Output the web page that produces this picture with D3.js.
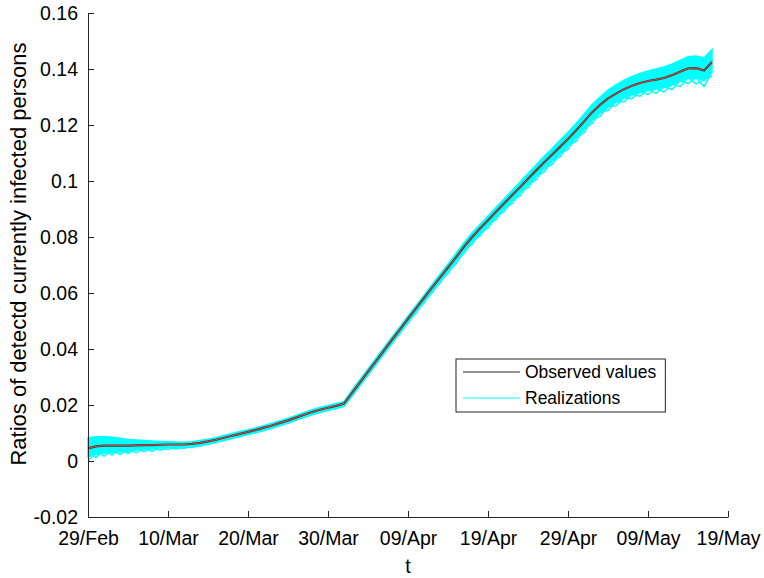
<!DOCTYPE html>
<html>
<head>
<meta charset="utf-8">
<script src="https://cdn.jsdelivr.net/npm/d3@7"></script>
<style>
  html, body { margin: 0; padding: 0; background: #fff; }
  svg { display: block; font-family: "Liberation Sans", Arial, sans-serif; }
</style>
</head>
<body>
<svg id="chart" width="764" height="578"></svg>
<script>
// Daily series starting 29 Feb 2020
const startDate = "2020-02-29";

// Observed ratio of detected currently infected persons, one value per day
const observed = [
  0.0045, 0.0052, 0.0055, 0.0055, 0.0055, 0.0055, 0.0056, 0.0057, 0.0057, 0.0058,
  0.0059, 0.0059, 0.0059, 0.0061, 0.0065, 0.0070, 0.0076, 0.0083, 0.0090, 0.0097,
  0.0104, 0.0111, 0.0119, 0.0127, 0.0136, 0.0145, 0.0155, 0.0165, 0.0175, 0.0183,
  0.0190, 0.0197, 0.0205, 0.0243, 0.0281, 0.0319, 0.0357, 0.0395, 0.0433, 0.0470,
  0.0508, 0.0545, 0.0582, 0.0619, 0.0655, 0.0691, 0.0727, 0.0765, 0.0799, 0.0830,
  0.0860, 0.0890, 0.0920, 0.0949, 0.0978, 0.1008, 0.1037, 0.1066, 0.1094, 0.1122,
  0.1150, 0.1180, 0.1212, 0.1245, 0.1272, 0.1295, 0.1312, 0.1328, 0.1340, 0.1350,
  0.1357, 0.1362, 0.1368, 0.1378, 0.1390, 0.1402, 0.1403, 0.1395, 0.1425
];

// Spread of the realizations around the observed curve (units of 0.001)
const spreadHigh = [
  3.8, 3.5, 3.2, 3.0, 2.6, 2.2, 1.9, 1.6, 1.4, 1.2,
  1.0, 0.9, 0.8, 0.8, 0.8, 0.8, 0.8, 0.8, 0.8, 0.8,
  0.8, 0.8, 0.8, 0.8, 0.8, 0.8, 0.8, 0.8, 0.8, 0.8,
  0.8, 0.8, 0.8, 1.0, 1.0, 1.0, 1.0, 1.0, 1.0, 1.0,
  1.0, 1.0, 1.0, 1.1, 1.2, 1.3, 1.4, 1.5, 1.5, 1.5,
  1.5, 1.6, 1.6, 1.7, 1.8, 1.9, 2.0, 2.1, 2.2, 2.3,
  2.4, 2.5, 2.6, 2.7, 2.8, 3.0, 3.1, 3.2, 3.3, 3.4,
  3.6, 3.8, 3.9, 4.0, 4.1, 4.2, 4.3, 4.4, 4.5
];
const spreadLow = [
  3.0, 2.8, 2.6, 2.4, 2.2, 2.0, 1.7, 1.5, 1.3, 1.1,
  1.0, 0.9, 0.8, 0.8, 0.8, 0.8, 0.8, 0.8, 0.8, 0.8,
  0.8, 0.8, 0.8, 0.8, 0.8, 0.8, 0.8, 0.8, 0.8, 0.8,
  0.8, 0.8, 0.8, 1.0, 1.0, 1.0, 1.0, 1.0, 1.0, 1.0,
  1.0, 1.0, 1.0, 1.1, 1.2, 1.3, 1.4, 1.5, 1.5, 1.5,
  1.5, 1.6, 1.6, 1.7, 1.8, 1.9, 2.0, 2.1, 2.2, 2.3,
  2.4, 2.5, 2.6, 2.7, 2.8, 3.0, 3.0, 3.1, 3.1, 3.2,
  3.2, 3.3, 3.3, 3.4, 3.4, 3.5, 3.5, 3.6, 3.6
];
// Lower realizations that swing from day to day (units of 0.001 below observed)
const swingA = [
  4.5, 1.6, 3.8, 1.5, 3.2, 1.3, 2.7, 1.1, 2.2, 1.0,
  1.8, 0.9, 1.4, 0.8, 1.2, 0.8, 1.0, 0.8, 1.0, 0.8,
  1.0, 0.8, 1.0, 0.8, 1.0, 0.8, 1.0, 0.8, 1.0, 0.8,
  1.0, 0.8, 1.0, 1.0, 1.2, 1.0, 1.3, 1.0, 1.4, 1.0,
  1.6, 1.1, 1.8, 1.2, 2.0, 1.3, 2.3, 1.5, 2.5, 1.6,
  2.7, 1.7, 2.9, 1.8, 3.1, 2.0, 3.3, 2.1, 3.5, 2.3,
  3.7, 2.5, 3.9, 2.6, 4.1, 2.8, 4.4, 3.0, 4.6, 3.0,
  4.8, 3.1, 5.0, 3.2, 5.3, 3.3, 5.6, 3.4, 5.0
];
const swingB = [
  1.5, 3.9, 1.4, 3.4, 1.2, 2.9, 1.1, 2.4, 1.0, 2.0,
  0.9, 1.6, 0.8, 1.3, 0.8, 1.1, 0.8, 1.0, 0.8, 1.0,
  0.8, 1.0, 0.8, 1.0, 0.8, 1.0, 0.8, 1.0, 0.8, 1.0,
  0.8, 1.0, 0.8, 1.1, 1.0, 1.2, 1.0, 1.3, 1.0, 1.5,
  1.0, 1.7, 1.1, 1.9, 1.2, 2.1, 1.3, 2.4, 1.5, 2.6,
  1.6, 2.8, 1.7, 3.0, 1.8, 3.2, 2.0, 3.4, 2.1, 3.6,
  2.3, 3.8, 2.5, 4.0, 2.6, 4.3, 2.8, 4.5, 3.0, 4.7,
  3.0, 4.9, 3.1, 5.1, 3.2, 5.4, 3.3, 5.8, 3.4
];

const xTickLabels = ["29/Feb", "10/Mar", "20/Mar", "30/Mar", "09/Apr", "19/Apr", "29/Apr", "09/May", "19/May"];
const yTicks = [-0.02, 0, 0.02, 0.04, 0.06, 0.08, 0.1, 0.12, 0.14, 0.16];
const legendLabels = ["Observed values", "Realizations"];

const svg = d3.select("#chart");
const margin = { left: 88, right: 36, top: 13, bottom: 61 };
const W = 764, H = 578;

const t0 = d3.timeParse("%Y-%m-%d")(startDate);
const days = observed.map((_, i) => d3.timeDay.offset(t0, i));
const tickDates = xTickLabels.map((_, i) => d3.timeDay.offset(t0, i * 10));

const x = d3.scaleTime()
  .domain([t0, tickDates[tickDates.length - 1]])
  .range([margin.left, W - margin.right]);
const y = d3.scaleLinear()
  .domain([-0.02, 0.16])
  .range([H - margin.bottom, margin.top]);

const fontSize = 19.5;
const axisColor = "#262626";

// realization band
const band = d3.area()
  .x((d, i) => x(days[i]))
  .y0((d, i) => y(d - spreadLow[i] / 1000))
  .y1((d, i) => y(d + spreadHigh[i] / 1000))
  .curve(d3.curveLinear);
const cyan = "#00ffff";
svg.append("path").datum(observed).attr("d", band)
  .attr("fill", cyan).attr("stroke", cyan).attr("stroke-width", 1.5);

const lineOff = (arr, sign) => d3.line()
  .x((d, i) => x(days[i]))
  .y((d, i) => y(d + sign * arr[i] / 1000));
[swingA, swingB].forEach(arr => {
  svg.append("path").datum(observed).attr("d", lineOff(arr, -1))
    .attr("fill", "none").attr("stroke", cyan).attr("stroke-width", 1.5)
    .attr("stroke-linejoin", "round");
});

// observed line with the red realization mean on top
const obsLine = d3.line().x((d, i) => x(days[i])).y(d => y(d));
svg.append("path").datum(observed).attr("d", obsLine)
  .attr("fill", "none").attr("stroke", "#3a3a3a").attr("stroke-width", 2.2);
svg.append("path").datum(observed).attr("d", obsLine)
  .attr("fill", "none").attr("stroke", "#e8413a").attr("stroke-width", 1);

// axes
const xAxis = d3.axisBottom(x)
  .tickValues(tickDates)
  .tickFormat((d, i) => xTickLabels[i])
  .tickSizeInner(-6).tickSizeOuter(0).tickPadding(14);
const gx = svg.append("g").attr("transform", `translate(0,${H - margin.bottom})`).call(xAxis);

const yAxis = d3.axisLeft(y)
  .tickValues(yTicks)
  .tickFormat(d => d3.format("")(+d.toFixed(2)).replace("−", "-"))
  .tickSizeInner(-6).tickSizeOuter(0).tickPadding(10);
const gy = svg.append("g").attr("transform", `translate(${margin.left},0)`).call(yAxis);

[gx, gy].forEach(g => {
  g.select(".domain").attr("stroke", axisColor).attr("stroke-width", 1);
  g.selectAll(".tick line").attr("stroke", axisColor);
  g.selectAll(".tick text").attr("fill", "#000").style("font-size", fontSize + "px")
    .style("font-family", "Liberation Sans, Arial, sans-serif");
});

// axis titles
svg.append("text").attr("x", (margin.left + W - margin.right) / 2).attr("y", 573)
  .attr("text-anchor", "middle").style("font-size", fontSize + "px").text("t");
svg.append("text")
  .attr("transform", `translate(26,254) rotate(-90)`)
  .attr("text-anchor", "middle").style("font-size", "22px")
  .text("Ratios of detectd currently infected persons");

// legend
const lg = svg.append("g").attr("transform", "translate(456,359)");
const lgText = lg.selectAll("text").data(legendLabels).join("text")
  .attr("x", 69).attr("y", (d, i) => 13 + i * 26 + 6)
  .style("font-size", "17.5px").text(d => d);
const tw = d3.max(lgText.nodes(), n => n.getComputedTextLength());
lg.insert("rect", "text").attr("x", 0).attr("y", 0)
  .attr("width", 69 + tw + 9).attr("height", 53)
  .attr("fill", "#fff").attr("stroke", "#262626").attr("stroke-width", 1);
lg.selectAll("line.key").data([["#262626"], [cyan]]).join("line")
  .attr("class", "key")
  .attr("x1", 7).attr("x2", 64)
  .attr("y1", (d, i) => 13 + i * 26).attr("y2", (d, i) => 13 + i * 26)
  .attr("stroke", d => d[0]).attr("stroke-width", 1.2);
</script>
</body>
</html>
